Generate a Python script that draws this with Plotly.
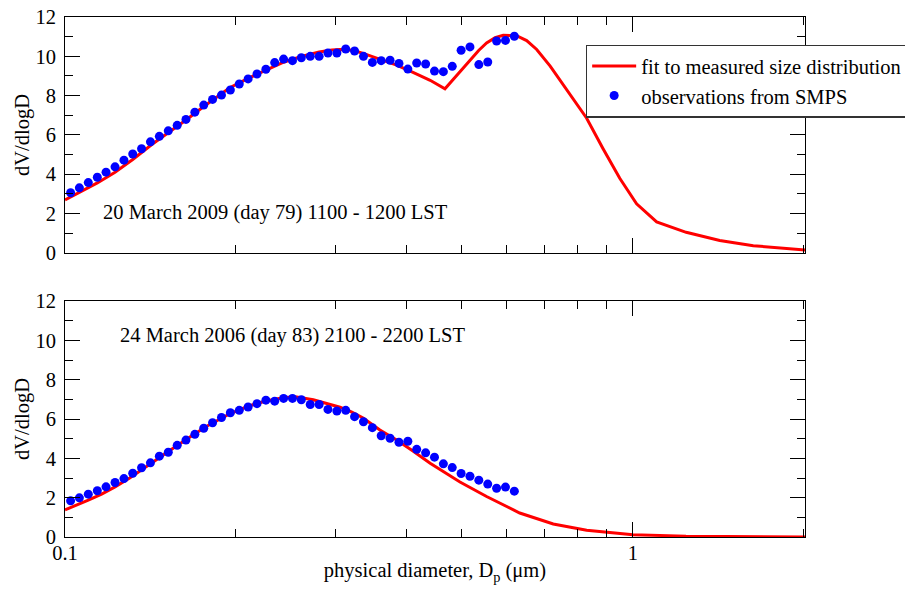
import plotly.graph_objects as go
from plotly.subplots import make_subplots

# SMPS channel diameters (µm)
obs_x = [0.1023, 0.1060, 0.1099, 0.1140, 0.1181, 0.1225, 0.1270, 0.1316, 0.1364, 0.1414,
         0.1466, 0.1520, 0.1576, 0.1633, 0.1693, 0.1755, 0.1819, 0.1886, 0.1955, 0.2027,
         0.2101, 0.2178, 0.2258, 0.2340, 0.2426, 0.2515, 0.2607, 0.2703, 0.2802, 0.2904,
         0.3011, 0.3121, 0.3235, 0.3354, 0.3477, 0.3604, 0.3736, 0.3873, 0.4015, 0.4162,
         0.4315, 0.4473, 0.4637, 0.4807, 0.4983, 0.5165, 0.5354, 0.5551, 0.5754, 0.5965,
         0.6183]

# Top panel: 20 March 2009
obs_top = [3.06, 3.31, 3.58, 3.85, 4.11, 4.38, 4.72, 5.03, 5.30, 5.65,
           5.93, 6.21, 6.49, 6.79, 7.16, 7.52, 7.81, 8.03, 8.29, 8.59,
           8.85, 9.10, 9.34, 9.68, 9.86, 9.78, 9.93, 10.00, 10.00, 10.17,
           10.17, 10.37, 10.27, 10.00, 9.69, 9.78, 9.80, 9.64, 9.35, 9.66,
           9.61, 9.25, 9.22, 9.49, 10.31, 10.48, 9.58, 9.71, 10.78, 10.81,
           11.02]

fit_top_x = [0.100, 0.1045, 0.1099, 0.1140, 0.1225, 0.1316, 0.1420, 0.1520, 0.1640, 0.1755,
             0.1860, 0.1950, 0.2101, 0.2258, 0.2426, 0.2607, 0.2802, 0.2950, 0.3050, 0.3150,
             0.3235, 0.3350, 0.3600, 0.3837, 0.4100, 0.4395, 0.4667, 0.4900, 0.5160, 0.5350,
             0.5525, 0.5720, 0.5910, 0.6240, 0.6500, 0.6770, 0.7150, 0.7740, 0.8290, 0.8860,
             0.9480, 1.0150, 1.1010, 1.2410, 1.4220, 1.6290, 2.0100]
fit_top_y = [2.70, 3.00, 3.30, 3.56, 4.10, 4.75, 5.50, 6.10, 6.80, 7.45,
             7.98, 8.40, 8.88, 9.30, 9.70, 10.00, 10.22, 10.32, 10.35, 10.33,
             10.28, 10.15, 9.85, 9.55, 9.18, 8.78, 8.35, 9.05, 9.80, 10.30,
             10.68, 10.95, 11.07, 11.05, 10.80, 10.35, 9.50, 8.10, 6.85, 5.30,
             3.80, 2.50, 1.58, 1.05, 0.63, 0.37, 0.15]

# Bottom panel: 24 March 2006
obs_bot = [1.84, 1.99, 2.18, 2.35, 2.55, 2.77, 2.97, 3.24, 3.52, 3.77,
           4.11, 4.31, 4.66, 4.93, 5.22, 5.53, 5.81, 6.08, 6.32, 6.44,
           6.61, 6.78, 6.96, 6.91, 7.05, 7.05, 6.98, 6.74, 6.74, 6.49,
           6.41, 6.44, 6.12, 5.86, 5.56, 5.15, 5.02, 4.82, 4.87, 4.46,
           4.28, 4.06, 3.72, 3.53, 3.23, 3.09, 2.89, 2.69, 2.48, 2.54,
           2.33]

fit_bot_x = [0.100, 0.1045, 0.1099, 0.1160, 0.1225, 0.1300, 0.1364, 0.1440, 0.1520, 0.1600,
             0.1693, 0.1786, 0.1886, 0.1955, 0.2101, 0.2258, 0.2420, 0.2560, 0.2737, 0.2904,
             0.3050, 0.3200, 0.3350, 0.3585, 0.3837, 0.4105, 0.4395, 0.4960, 0.5525, 0.6320,
             0.7240, 0.8290, 1.0000, 1.2400, 1.6000, 2.0100]
fit_bot_y = [1.38, 1.60, 1.87, 2.18, 2.55, 3.00, 3.40, 3.88, 4.35, 4.80,
             5.25, 5.67, 6.05, 6.28, 6.65, 6.92, 7.08, 7.12, 6.98, 6.78,
             6.60, 6.35, 6.05, 5.44, 4.93, 4.36, 3.75, 2.80, 2.06, 1.22,
             0.66, 0.34, 0.12, 0.04, 0.01, 0.00]

x_major = [0.1, 1]
x_minor = [0.2, 0.3, 0.4, 0.5, 0.6, 0.7, 0.8, 0.9, 2]

FONT = "Liberation Serif, Times New Roman, serif"
FS = 20.5
RED = "#ff0000"
BLUE = "#0000ff"

fig = make_subplots(rows=2, cols=1, vertical_spacing=0.0925)

fig.add_trace(go.Scatter(x=fit_top_x, y=fit_top_y, mode="lines",
                         line=dict(color=RED, width=3),
                         name="fit to measured size distribution"), row=1, col=1)
fig.add_trace(go.Scatter(x=obs_x, y=obs_top, mode="markers",
                         marker=dict(color=BLUE, size=9),
                         name="observations from SMPS"), row=1, col=1)
fig.add_trace(go.Scatter(x=fit_bot_x, y=fit_bot_y, mode="lines",
                         line=dict(color=RED, width=3), showlegend=False), row=2, col=1)
fig.add_trace(go.Scatter(x=obs_x, y=obs_bot, mode="markers",
                         marker=dict(color=BLUE, size=9), showlegend=False), row=2, col=1)

xaxis_common = dict(type="log", range=[-1, 0.303], tickvals=x_major, ticktext=["0.1", "1"],
                    ticks="inside", ticklen=15, tickwidth=1, tickcolor="black",
                    minor=dict(tickvals=x_minor, ticks="inside", ticklen=8, tickwidth=1,
                               tickcolor="black"),
                    showline=True, linecolor="black", linewidth=1, mirror="ticks",
                    showgrid=False, zeroline=False, ticklabelstandoff=-3,
                    tickfont=dict(family=FONT, size=FS, color="black"))
yaxis_common = dict(range=[0, 12], dtick=2, tick0=0,
                    ticks="inside", ticklen=15, tickwidth=1, tickcolor="black",
                    minor=dict(dtick=1, ticks="inside", ticklen=8, tickwidth=1,
                               tickcolor="black"),
                    showline=True, linecolor="black", linewidth=1, mirror="ticks",
                    showgrid=False, zeroline=False, ticklabelstandoff=4,
                    tickfont=dict(family=FONT, size=FS, color="black"),
                    title=dict(text="dV/dlogD", font=dict(family=FONT, size=FS, color="black"),
                               standoff=0))

fig.update_xaxes(**xaxis_common)
fig.update_xaxes(showticklabels=False, row=1, col=1)
fig.update_xaxes(title=dict(text="physical diameter, D<sub>p</sub> (\u03bcm)",
                            font=dict(family=FONT, size=FS, color="black"), standoff=0),
                 row=2, col=1)
fig.update_yaxes(**yaxis_common)

fig.add_annotation(text="20 March 2009 (day 79) 1100 - 1200 LST", x=-0.936, y=2.07,
                   xref="x", yref="y", xanchor="left", yanchor="middle", showarrow=False,
                   font=dict(family=FONT, size=FS, color="black"))
fig.add_annotation(text="24 March 2006 (day 83) 2100 - 2200 LST", x=-0.907, y=10.26,
                   xref="x2", yref="y2", xanchor="left", yanchor="middle", showarrow=False,
                   font=dict(family=FONT, size=FS, color="black"))

fig.update_layout(
    width=905, height=592,
    margin=dict(l=65, r=100, t=17, b=55, autoexpand=False),
    paper_bgcolor="white", plot_bgcolor="white",
    font=dict(family=FONT, size=FS, color="black"),
    legend=dict(x=0.7036, y=0.947, xanchor="left", yanchor="top",
                bgcolor="white", bordercolor="#333333", borderwidth=1.5,
                itemwidth=44, tracegroupgap=0,
                font=dict(family=FONT, size=FS, color="black")),
)

fig.write_html("out.html", config={"displayModeBar": False},
               post_script="document.body.style.margin='0';")
